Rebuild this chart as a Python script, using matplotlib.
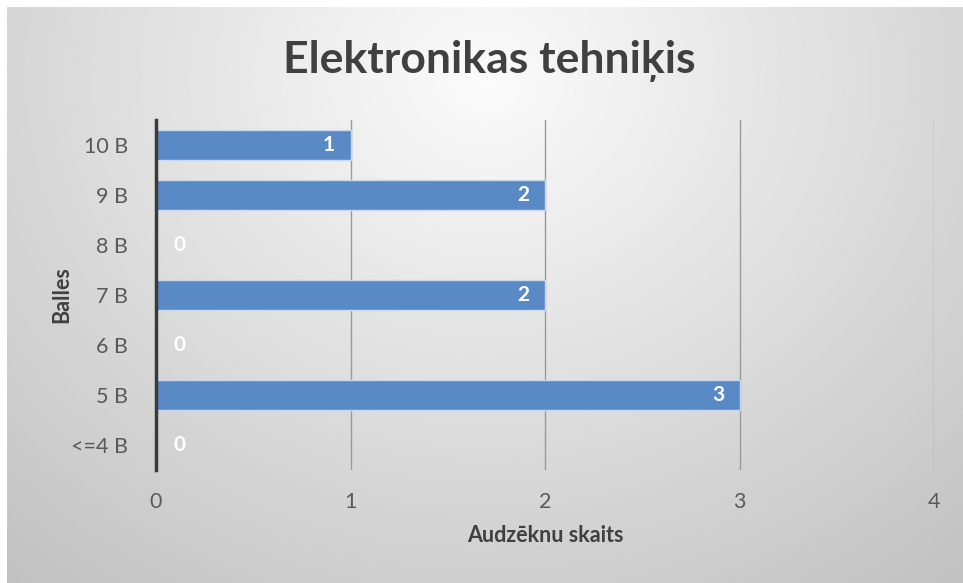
import matplotlib.pyplot as plt
import numpy as np

categories = ["<=4 B", "5 B", "6 B", "7 B", "8 B", "9 B", "10 B"]
counts = [0, 3, 0, 2, 0, 2, 1]
x_ticks = [0, 1, 2, 3, 4]

plt.rcParams["font.family"] = ["Lato", "DejaVu Sans"]

fig = plt.figure(figsize=(9.63, 5.83), dpi=100)

# radial gray background, white near the top centre
bg = fig.add_axes([7 / 963, 0, 1 - 7 / 963, 1 - 7 / 583])
bg.set_axis_off()
yy, xx = np.mgrid[0:1:300j, 0:1:500j]
d = np.sqrt(((xx - 0.5) / 0.75) ** 2 + ((yy - 0.12) / 1.1) ** 2)
shade = 0.985 - 0.22 * np.clip(d, 0, 1.2)
bg.imshow(shade, cmap="gray", vmin=0, vmax=1, aspect="auto",
          extent=[0, 1, 1, 0], interpolation="bilinear")

ax = fig.add_axes([156 / 963, 113 / 583, 778 / 963, 350 / 583])
ax.patch.set_alpha(0)

ypos = np.arange(len(categories))
ax.barh(ypos, counts, height=0.6, color="#5a8ac6", edgecolor="#c9d8ec",
        linewidth=1, zorder=3)

for y, v in zip(ypos, counts):
    xt = v - 0.11 if v > 0 else 0.12
    ax.text(xt, y, str(v), ha="center", va="center", color="white",
            fontsize=15, fontweight="bold", zorder=4)

ax.set_xlim(0, 4)
ax.set_ylim(-0.5, len(categories) - 0.5)
ax.set_xticks(x_ticks)
ax.set_yticks(ypos)
ax.set_yticklabels(categories)
ax.tick_params(axis="both", length=0, labelsize=15.5, labelcolor="#595959")
ax.tick_params(axis="x", pad=16)
ax.tick_params(axis="y", pad=20)
ax.grid(axis="x", color="#9a9a9a", linewidth=1, zorder=1)
for s in ["top", "right", "bottom"]:
    ax.spines[s].set_visible(False)
ax.spines["left"].set_color("#3a3a3a")
ax.spines["left"].set_linewidth(2.5)
ax.spines["left"].set_zorder(5)

ax.set_xlabel("Audzēknu skaits", fontsize=15.5, fontweight="bold",
              color="#404040", labelpad=9)
ax.set_ylabel("Balles", fontsize=15.5, fontweight="bold", color="#404040")
ax.yaxis.set_label_coords(-0.121, 0.5)
ax.yaxis.label.set_va("center")

fig.text(0.508, 0.895, "Elektronikas tehniķis", ha="center", va="center",
         fontsize=32, fontweight="bold", color="#404040")

fig.savefig("out.png", dpi=100)
